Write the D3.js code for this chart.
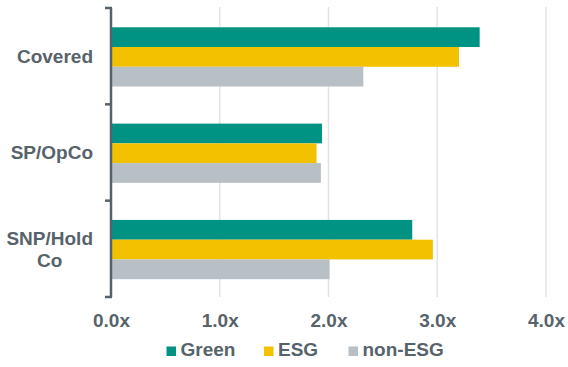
<!DOCTYPE html>
<html lang="en">
<head>
<meta charset="utf-8">
<title>Coverage ratios</title>
<script src="https://d3js.org/d3.v7.min.js"></script>
<style>
  body { margin: 0; background: #fff; }
  text { font-family: "Liberation Sans", Arial, sans-serif; font-weight: bold; fill: #57636b; }
</style>
</head>
<body>
<div id="chart"></div>
<script>
const categories = ["Covered", "SP/OpCo", "SNP/Hold Co"];
const categoryLines = [["Covered"], ["SP/OpCo"], ["SNP/Hold", "Co"]];
const series = ["Green", "ESG", "non-ESG"];
const colors = ["#009384", "#f2c100", "#b9c0c5"];
const green = [3.39, 1.94, 2.77];
const esg = [3.20, 1.89, 2.96];
const nonEsg = [2.32, 1.93, 2.01];
const ticks = [0, 1, 2, 3, 4];

const width = 568, height = 367;
const plotLeft = 111, plotRight = 546, plotTop = 8, plotBottom = 297;
const fontSize = 19;

const svg = d3.select("#chart").append("svg")
  .attr("width", width).attr("height", height);

const x = d3.scaleLinear().domain([0, 4]).range([plotLeft, plotRight]);
const y = d3.scaleBand().domain(categories).range([plotTop, plotBottom]);
const ySub = d3.scaleBand().domain(series)
  .range([y.bandwidth() * 0.2, y.bandwidth() * 0.815]);

// gridlines
svg.append("g")
  .selectAll("line")
  .data(ticks.slice(1))
  .join("line")
  .attr("x1", d => x(d)).attr("x2", d => x(d))
  .attr("y1", plotTop - 1).attr("y2", plotBottom)
  .attr("stroke", "#dfe5e8").attr("stroke-width", 1.5);

// bars
const values = [green, esg, nonEsg];
const rows = [];
categories.forEach((c, i) => series.forEach((s, j) => rows.push({c, s, v: values[j][i], col: colors[j]})));

svg.append("g")
  .selectAll("rect")
  .data(rows)
  .join("rect")
  .attr("x", x(0))
  .attr("y", d => y(d.c) + ySub(d.s))
  .attr("width", d => x(d.v) - x(0))
  .attr("height", ySub.bandwidth())
  .attr("fill", d => d.col);

// x axis labels
const xAxis = d3.axisBottom(x).tickValues(ticks)
  .tickFormat(d => d3.format(".1f")(d) + "x").tickSize(0).tickPadding(0);
const xg = svg.append("g").attr("transform", `translate(0,${plotBottom + 16})`).call(xAxis);
xg.select(".domain").remove();
xg.selectAll("text").attr("font-size", fontSize).attr("fill", "#57636b")
  .style("font-family", "'Liberation Sans', Arial, sans-serif").attr("font-weight", "bold");

// y axis bracket
const yAxis = d3.axisLeft(y).tickSize(0).tickFormat("");
const yg = svg.append("g").attr("transform", `translate(${plotLeft},0)`).call(yAxis);
yg.select(".domain").remove();
const bounds = [plotTop].concat(categories.map(c => y(c) + y.bandwidth()));
yg.append("line")
  .attr("x1", 0).attr("x2", 0).attr("y1", plotTop).attr("y2", plotBottom)
  .attr("stroke", "#57636b").attr("stroke-width", 2.5);
yg.selectAll(".bt").data(bounds).join("line").attr("class", "bt")
  .attr("x1", -6).attr("x2", 1).attr("y1", d => d).attr("y2", d => d)
  .attr("stroke", "#57636b").attr("stroke-width", 2.5);

// category labels
const lineH = 21.7;
categories.forEach((c, i) => {
  const lines = categoryLines[i];
  const cy = y(c) + y.bandwidth() / 2;
  const t = svg.append("text").attr("font-size", fontSize).attr("text-anchor", "middle");
  lines.forEach((l, k) => {
    t.append("tspan").attr("x", 0)
      .attr("y", cy + (k - (lines.length - 1) / 2) * lineH)
      .attr("dy", "0.36em").text(l);
  });
  let w = 0;
  t.selectAll("tspan").each(function() { w = Math.max(w, this.getComputedTextLength()); });
  t.selectAll("tspan").attr("x", 93 - w / 2);
});

// legend
const legendX = [166.5, 264, 348.5];
const lg = svg.append("g").selectAll("g").data(series).join("g")
  .attr("transform", (d, i) => `translate(${legendX[i]},346.5)`);
lg.append("rect").attr("width", 9.5).attr("height", 9.5).attr("fill", (d, i) => colors[i]);
lg.append("text").attr("x", 14).attr("y", 9.5).attr("font-size", fontSize).text(d => d);
</script>
</body>
</html>
